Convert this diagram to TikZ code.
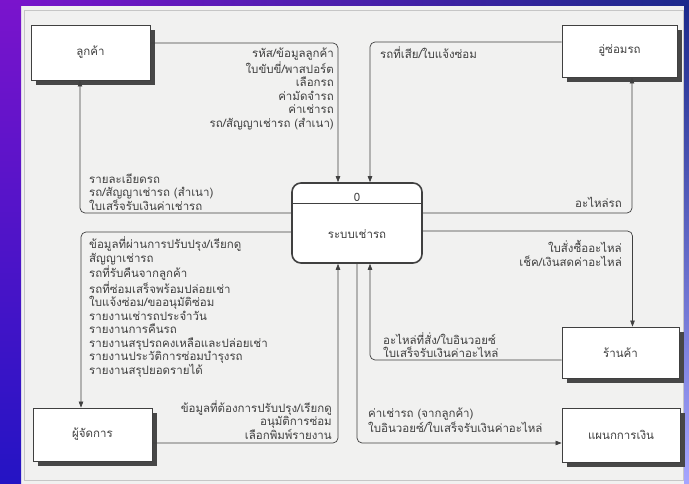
\documentclass[tikz,border=0pt]{standalone}
\usepackage{fontspec}
\newfontfamily\thaifont[Script=Thai]{Loma}
\usetikzlibrary{arrows.meta,shadows}
\definecolor{inkgray}{HTML}{404040}
\definecolor{bandpurple}{HTML}{7A14CC}
\definecolor{bandblue}{HTML}{2414C4}
\definecolor{bandnavy}{HTML}{1C2A8C}
\definecolor{pagebg}{HTML}{F1F1F0}
\tikzset{
  entity/.style={draw=inkgray, line width=0.8pt, fill=white, inner sep=0pt,
    drop shadow={shadow xshift=5pt, shadow yshift=-5pt, fill=black!72, opacity=1}},
  flow/.style={draw=inkgray, line width=0.7pt, rounded corners=5pt,
    -{Triangle[length=6pt,width=4.5pt]}},
  lblleft/.style={align=left, anchor=west, inner sep=0pt},
  lblright/.style={align=right, anchor=east, inner sep=0pt}
}
\begin{document}
\begin{tikzpicture}[x=1pt, y=-1pt, every node/.style={font=\thaifont\fontsize{11.5}{13.5}\selectfont, text=inkgray}]
  \useasboundingbox (0,0) rectangle (689,484);
  % page and slide frame
  \fill[pagebg] (0,0) rectangle (689,484);
  \shade[left color=bandpurple, right color=bandnavy] (0,0) rectangle (689,6);
  \shade[top color=bandpurple, bottom color=bandblue] (0,0) rectangle (21,484);
  \shade[top color=bandnavy, bottom color=blue!35!white] (684,6) rectangle (689,484);
  \draw[gray!45, line width=0.4pt] (24,10) rectangle (683,480);
  % process
  \node[draw=inkgray, line width=1.6pt, rounded corners=9pt, fill=white,
    minimum width=130pt, minimum height=80pt] (proc) at (357,223) {};
  \draw[inkgray, line width=1.2pt] ([yshift=-21pt]proc.north west) -- ([yshift=-21pt]proc.north east);
  \node (procid) at ([yshift=-15pt]proc.north) {0};
  \node (procname) at ([yshift=-11pt]proc.center) {ระบบเช่ารถ};
  % external entities
  \node[entity, minimum width=119pt, minimum height=55pt] (cust) at (90.5,52.5) {ลูกค้า};
  \node[entity, minimum width=115pt, minimum height=52pt] (garage) at (619.5,51) {อู่ซ่อมรถ};
  \node[entity, minimum width=119pt, minimum height=53pt] (mgr) at (92.5,434.5) {ผู้จัดการ};
  \node[entity, minimum width=117pt, minimum height=51pt] (shop) at (620.5,352.5) {ร้านค้า};
  \node[entity, minimum width=118pt, minimum height=54pt] (fin) at (621,435) {แผนกการเงิน};
  % data flows
  \draw[flow] ([yshift=9.5pt]cust.east) -| ([xshift=-19pt]proc.north);
  \draw[flow] ([yshift=9pt]garage.west) -| ([xshift=13pt]proc.north);
  \draw[flow] ([yshift=10pt]proc.west) -| ([xshift=-10.5pt]cust.south);
  \draw[flow] ([yshift=-9pt]proc.west) -| ([xshift=-11.5pt]mgr.north);
  \draw[flow] ([yshift=-8.5pt]mgr.east) -| ([xshift=-19pt]proc.south);
  \draw[flow] (proc.south) |- ([yshift=-8pt]fin.west);
  \draw[flow] ([yshift=-7.5pt]shop.west) -| ([xshift=13pt]proc.south);
  \draw[flow] ([yshift=10pt]proc.east) -| ([xshift=12.5pt]garage.south);
  \draw[flow] ([yshift=-8pt]proc.east) -| ([xshift=12pt]shop.north);
  % flow labels
  \node[lblright] (lblcustin) at (334,89) {รหัส/ข้อมูลลูกค้า\\ใบขับขี่/พาสปอร์ต\\เลือกรถ\\ค่ามัดจำรถ\\ค่าเช่ารถ\\รถ/สัญญาเช่ารถ (สำเนา)};
  \node[lblleft] (lblgaragein) at (380,53) {รถที่เสีย/ใบแจ้งซ่อม};
  \node[lblleft] (lblcustout) at (89,192) {รายละเอียดรถ\\รถ/สัญญาเช่ารถ (สำเนา)\\ใบเสร็จรับเงินค่าเช่ารถ};
  \node[lblleft] (lblmgrout) at (89,307) {ข้อมูลที่ผ่านการปรับปรุง/เรียกดู\\สัญญาเช่ารถ\\รถที่รับคืนจากลูกค้า\\รถที่ซ่อมเสร็จพร้อมปล่อยเช่า\\ใบแจ้งซ่อม/ขออนุมัติซ่อม\\รายงานเช่ารถประจำวัน\\รายงานการคืนรถ\\รายงานสรุปรถคงเหลือและปล่อยเช่า\\รายงานประวัติการซ่อมบำรุงรถ\\รายงานสรุปยอดรายได้};
  \node[lblright] (lblmgrin) at (332,420) {ข้อมูลที่ต้องการปรับปรุง/เรียกดู\\อนุมัติการซ่อม\\เลือกพิมพ์รายงาน};
  \node[lblleft] (lblfinout) at (368,420) {ค่าเช่ารถ (จากลูกค้า)\\ใบอินวอยซ์/ใบเสร็จรับเงินค่าอะไหล่};
  \node[lblleft] (lblshopin) at (383,345) {อะไหล่ที่สั่ง/ใบอินวอยซ์\\ใบเสร็จรับเงินค่าอะไหล่};
  \node[lblright] (lblgarageout) at (622,202) {อะไหล่รถ};
  \node[lblright] (lblshopout) at (622,253.5) {ใบสั่งซื้ออะไหล่\\เช็ค/เงินสดค่าอะไหล่};
\end{tikzpicture}
\end{document}
